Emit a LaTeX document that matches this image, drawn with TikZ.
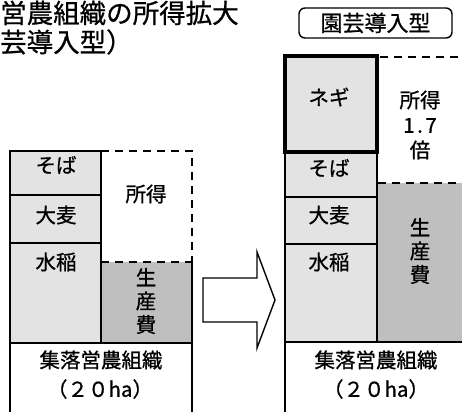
\documentclass[tikz,border=0pt]{standalone}
\usepackage{fontspec}
\setmainfont[FakeBold=0.8]{Noto Sans CJK JP}
\tikzset{
  crop/.style={fill=gray!22, draw=black, line width=1.4pt},
  cost/.style={fill=gray!50},
  dashline/.style={line width=2.8pt, dash pattern=on 8pt off 6pt},
  lbl/.style={inner sep=0pt, font=\fontsize{20.5}{22}\selectfont},
  vlbl/.style={inner sep=0pt, align=center, font=\fontsize{20.5}{23.5}\selectfont},
  ttl/.style={inner sep=0pt, anchor=west, font=\fontsize{26.5}{28}\selectfont},
  solid1/.style={line width=1.4pt},
}
\begin{document}
\begin{tikzpicture}[x=1pt,y=-1pt]
\useasboundingbox (0,0) rectangle (462,412);
% title
\node[ttl] (t1) at (0,13) {営農組織の所得拡大};
\node[ttl] (t2) at (0,42) {芸導入型）};
% ---------- left diagram ----------
\fill[cost] (101,262) rectangle (192,343);
\draw[crop] (10,151) rectangle (101,195);
\draw[crop] (10,195) rectangle (101,243);
\draw[crop] (10,243) rectangle (101,343);
\draw[solid1] (192,262) -- (192,343);
\draw[dashline] (101,151) -- (192,151) -- (192,262);
\draw[dashline] (101,262) -- (192,262);
\draw[solid1] (10,412) -- (10,343) -- (192,343) -- (192,412);
\node[lbl] (lsoba) at (56,165) {そば};
\node[lbl] (lmugi) at (56,215) {大麦};
\node[lbl] (lsui) at (56,262) {水稲};
\node[lbl] (linc) at (146,194) {所得};
\node[vlbl] (lcost) at (146,301) {生\\産\\費};
\node[lbl] (lorg) at (101,360) {集落営農組織};
\node[lbl] (lha) at (100,389) {（２０ha）};
% ---------- arrow ----------
\draw[line width=1.4pt, line join=miter] (203,278) -- (257,278) -- (257,252) -- (275,300) -- (257,348) -- (257,322) -- (203,322) -- cycle;
% ---------- right diagram ----------
\fill[cost] (377,183) rectangle (470,342);
\draw[crop] (285,152) rectangle (377,197);
\draw[crop] (285,197) rectangle (377,244);
\draw[crop] (285,244) rectangle (377,342);
\draw[crop, line width=4pt] (285,56) rectangle (377,152);
\draw[dashline] (380,57) -- (470,57);
\draw[dashline] (378,183) -- (470,183);
\draw[solid1] (285,412) -- (285,342) -- (470,342);
\node[lbl] (rnegi) at (329,97) {ネギ};
\node[lbl] (rsoba) at (329,168) {そば};
\node[lbl] (rmugi) at (329,215) {大麦};
\node[lbl] (rsui) at (329,262) {水稲};
\node[vlbl] (rcost) at (420,251) {生\\産\\費};
\node[vlbl, font=\fontsize{20.5}{25}\selectfont] (rinc) at (420,125) {所得\\1\kern2.5pt.\kern2.5pt7\\倍};
\node[lbl] (rorg) at (376,360) {集落営農組織};
\node[lbl] (rha) at (376,389) {（２０ha）};
% type label
\node[draw, line width=1.4pt, rounded corners=6pt, minimum width=153pt, minimum height=30pt, inner sep=0pt, font=\fontsize{22}{24}\selectfont] (type) at (375.5,23) {園芸導入型};
\end{tikzpicture}
\end{document}
